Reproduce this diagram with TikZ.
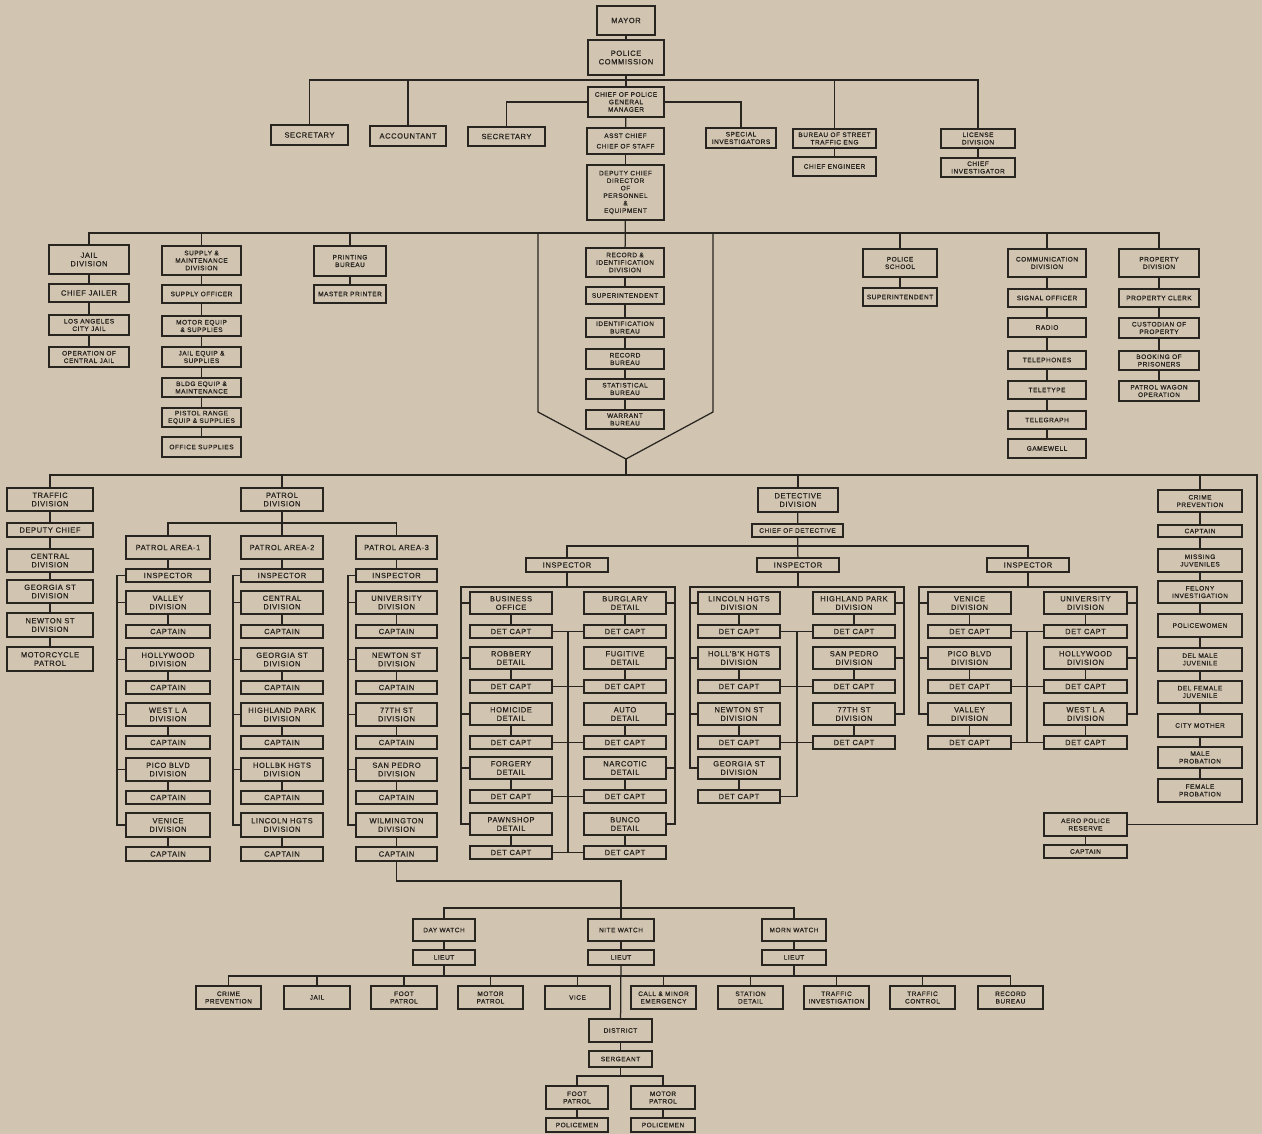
\documentclass[tikz,border=0pt]{standalone}
\usepackage{fontspec}
\setmainfont{Liberation Sans}[LetterSpace=8,FakeBold=0.6]
\definecolor{paper}{RGB}{209,197,177}
\definecolor{ink}{RGB}{40,36,32}
\tikzset{
  bx/.style={draw=ink, line width=1.25pt, text=ink, inner sep=0pt, align=center,
    font=\fontsize{7.5}{8.5}\selectfont},
  sm/.style={font=\fontsize{6.5}{7.5}\selectfont},
  thick box/.style={line width=2.4pt},
  ln/.style={draw=ink, line width=1.25pt}
}
% \B[opts]{name}{x1}{y1}{x2}{y2}{text}
\newcommand\B[7][]{\node[bx,#1, minimum width={((#5)-(#3))*1pt}, minimum height={((#6)-(#4))*1pt}] (#2) at ({((#3)+(#5))/2},{((#4)+(#6))/2}) {#7};}
% patrol area column
\newcommand\PCol[9]{%
  \coordinate (#1br) at (#4,0);
  \B{#1i}{#2}{569}{#3}{582}{INSPECTOR}
  \B{#1d1}{#2}{591}{#3}{614}{#5\\DIVISION}
  \B{#1c1}{#2}{625}{#3}{638}{CAPTAIN}
  \B{#1d2}{#2}{648}{#3}{671}{#6\\DIVISION}
  \B{#1c2}{#2}{681}{#3}{694}{CAPTAIN}
  \B{#1d3}{#2}{703}{#3}{726}{#7\\DIVISION}
  \B{#1c3}{#2}{736}{#3}{749}{CAPTAIN}
  \B{#1d4}{#2}{758}{#3}{781}{#8\\DIVISION}
  \B{#1c4}{#2}{791}{#3}{804}{CAPTAIN}
  \B{#1d5}{#2}{813}{#3}{837}{#9\\DIVISION}
  \B{#1c5}{#2}{847}{#3}{861}{CAPTAIN}
  \draw[ln] (#1i.west) -- (#1i.west -| #1br) |- (#1d5.west);
  \foreach \k in {1,...,4} {\draw[ln] (#1d\k.west -| #1br) -- (#1d\k.west);}
  \foreach \k in {1,...,5} {\draw[ln] (#1d\k) -- (#1c\k);}
}
% detective cell: name, x1, x2, ytop, text
\newcommand\DC[5]{%
  \B{#1}{#2}{#4}{#3}{#4+22}{#5}
  \B{#1c}{#2}{#4+33}{#3}{#4+46}{DET CAPT}
  \draw[ln] (#1) -- (#1c);
}
\begin{document}
\begin{tikzpicture}[x=1pt,y=-1pt]
\useasboundingbox (0,0) rectangle (1262,1134);
\fill[paper] (0,0) rectangle (1262,1134);

% ---------------- top ----------------
\B[thick box]{mayor}{597}{6}{655}{35}{MAYOR}
\B{pc}{588}{40}{664}{75}{POLICE\\COMMISSION}
\B[sm]{chief}{588}{87}{664}{117}{CHIEF OF POLICE\\GENERAL\\MANAGER}
\B{sec1}{271}{125}{348}{145}{SECRETARY}
\B{acc}{370}{126}{446}{146}{ACCOUNTANT}
\B{sec2}{468}{127}{545}{146}{SECRETARY}
\B[sm]{asst}{587}{128}{664}{154}{ASST CHIEF\\[3pt]CHIEF OF STAFF}
\B[sm]{spec}{706}{128}{776}{148}{SPECIAL\\INVESTIGATORS}
\B[sm]{bst}{793}{129}{876}{148}{BUREAU OF STREET\\TRAFFIC ENG}
\B[sm]{ceng}{793}{157}{876}{176}{CHIEF ENGINEER}
\B[sm]{lic}{941}{129}{1015}{148}{LICENSE\\DIVISION}
\B[sm]{cinv}{941}{158}{1015}{177}{CHIEF\\INVESTIGATOR}
\B[sm]{dep}{587}{165}{664}{220}{DEPUTY CHIEF\\DIRECTOR\\OF\\PERSONNEL\\\&\\EQUIPMENT}

\coordinate (b1) at (626,80);
\draw[ln] (mayor) -- (pc);
\draw[ln] (pc) -- (chief);
\draw[ln] (sec1.north) -- (sec1.north |- b1) -- (lic.north |- b1) -- (lic.north);
\draw[ln] (acc.north) -- (acc.north |- b1);
\draw[ln] (bst.north) -- (bst.north |- b1);
\draw[ln] (chief.west) -| (sec2.north);
\draw[ln] (chief.east) -| (spec.north);
\draw[ln] (chief) -- (asst);
\draw[ln] (asst) -- (dep);
\draw[ln] (bst) -- (ceng);
\draw[ln] (lic) -- (cinv);

% ---------------- second level ----------------
\B{jail}{49}{245}{129}{274}{JAIL\\DIVISION}
\B{cj}{49}{284}{129}{302}{CHIEF JAILER}
\B[sm]{lacj}{49}{315}{129}{335}{LOS ANGELES\\CITY JAIL}
\B[sm]{opcj}{49}{347}{129}{367}{OPERATION OF\\CENTRAL JAIL}

\B[sm]{sup}{162}{246}{241}{275}{SUPPLY \&\\MAINTENANCE\\DIVISION}
\B[sm]{supo}{162}{285}{241}{303}{SUPPLY OFFICER}
\B[sm]{moto}{162}{316}{241}{336}{MOTOR EQUIP\\\& SUPPLIES}
\B[sm]{jaile}{162}{347}{241}{367}{JAIL EQUIP \&\\SUPPLIES}
\B[sm]{bldg}{162}{378}{241}{397}{BLDG EQUIP \&\\MAINTENANCE}
\B[sm]{pist}{162}{408}{241}{427}{PISTOL RANGE\\EQUIP \& SUPPLIES}
\B[sm]{offs}{162}{437}{241}{457}{OFFICE SUPPLIES}

\B[sm]{prt}{314}{246}{386}{276}{PRINTING\\BUREAU}
\B[sm]{mprt}{314}{285}{386}{303}{MASTER PRINTER}

\B[sm]{rec}{586}{248}{664}{277}{RECORD \&\\IDENTIFICATION\\DIVISION}
\B[sm]{rsup}{586}{287}{664}{304}{SUPERINTENDENT}
\B[sm]{idb}{586}{318}{664}{337}{IDENTIFICATION\\BUREAU}
\B[sm]{rb}{586}{349}{664}{369}{RECORD\\BUREAU}
\B[sm]{stb}{586}{379}{664}{399}{STATISTICAL\\BUREAU}
\B[sm]{wb}{586}{410}{664}{429}{WARRANT\\BUREAU}

\B[sm]{ps}{863}{249}{937}{277}{POLICE\\SCHOOL}
\B[sm]{psup}{863}{288}{937}{306}{SUPERINTENDENT}

\B[sm]{com}{1008}{249}{1086}{277}{COMMUNICATION\\DIVISION}
\B[sm]{sig}{1008}{289}{1086}{307}{SIGNAL OFFICER}
\B[sm]{radio}{1008}{318}{1086}{337}{RADIO}
\B[sm]{tph}{1008}{351}{1086}{369}{TELEPHONES}
\B[sm]{tty}{1008}{381}{1086}{399}{TELETYPE}
\B[sm]{tgr}{1008}{411}{1086}{429}{TELEGRAPH}
\B[sm]{gam}{1008}{439}{1086}{458}{GAMEWELL}

\B[sm]{prop}{1119}{249}{1199}{277}{PROPERTY\\DIVISION}
\B[sm]{pclk}{1119}{289}{1199}{307}{PROPERTY CLERK}
\B[sm]{cust}{1119}{318}{1199}{338}{CUSTODIAN OF\\PROPERTY}
\B[sm]{book}{1119}{351}{1199}{370}{BOOKING OF\\PRISONERS}
\B[sm]{pwag}{1119}{381}{1199}{401}{PATROL WAGON\\OPERATION}

\coordinate (b2) at (626,233);
\draw[ln] (jail.north) -- (jail.north |- b2) -- (prop.north |- b2) -- (prop.north);
\foreach \n in {sup,prt,ps,com} {\draw[ln] (\n.north) -- (\n.north |- b2);}
\draw[ln] (dep) -- (rec);
\coordinate (pent) at (626,459);
\draw[ln] (538,233) -- (538,412) -- (pent) -- (713,412) -- (713,233);
\draw[ln] (jail) -- (cj); \draw[ln] (cj) -- (lacj); \draw[ln] (lacj) -- (opcj);
\draw[ln] (sup) -- (supo); \draw[ln] (supo) -- (moto); \draw[ln] (moto) -- (jaile);
\draw[ln] (jaile) -- (bldg); \draw[ln] (bldg) -- (pist); \draw[ln] (pist) -- (offs);
\draw[ln] (prt) -- (mprt);
\draw[ln] (rec) -- (rsup); \draw[ln] (rsup) -- (idb); \draw[ln] (idb) -- (rb);
\draw[ln] (rb) -- (stb); \draw[ln] (stb) -- (wb);
\draw[ln] (ps) -- (psup);
\draw[ln] (com) -- (sig); \draw[ln] (sig) -- (radio); \draw[ln] (radio) -- (tph);
\draw[ln] (tph) -- (tty); \draw[ln] (tty) -- (tgr); \draw[ln] (tgr) -- (gam);
\draw[ln] (prop) -- (pclk); \draw[ln] (pclk) -- (cust); \draw[ln] (cust) -- (book);
\draw[ln] (book) -- (pwag);

% ---------------- third level ----------------
\B{trf}{7}{488}{93}{511}{TRAFFIC\\DIVISION}
\B{tdc}{7}{523}{93}{537}{DEPUTY CHIEF}
\B{tcen}{7}{549}{93}{572}{CENTRAL\\DIVISION}
\B{tgeo}{7}{580}{93}{603}{GEORGIA ST\\DIVISION}
\B{tnew}{7}{613}{93}{637}{NEWTON ST\\DIVISION}
\B{tmot}{7}{647}{93}{671}{MOTORCYCLE\\PATROL}
\draw[ln] (trf) -- (tdc); \draw[ln] (tdc) -- (tcen); \draw[ln] (tcen) -- (tgeo);
\draw[ln] (tgeo) -- (tnew); \draw[ln] (tnew) -- (tmot);

\B{pat}{241}{488}{323}{511}{PATROL\\DIVISION}
\B{pa1}{126}{536}{210}{559}{PATROL AREA-1}
\B{pa2}{241}{536}{323}{559}{PATROL AREA-2}
\B{pa3}{356}{536}{437}{559}{PATROL AREA-3}
\coordinate (b4) at (282,523);
\draw[ln] (pa1.north) -- (pa1.north |- b4) -- (pa3.north |- b4) -- (pa3.north);
\draw[ln] (pat) -- (pa2);

\PCol{a1}{126}{210}{117}{VALLEY}{HOLLYWOOD}{WEST L A}{PICO BLVD}{VENICE}
\PCol{a2}{241}{323}{233}{CENTRAL}{GEORGIA ST}{HIGHLAND PARK}{HOLLBK HGTS}{LINCOLN HGTS}
\PCol{a3}{356}{437}{348}{UNIVERSITY}{NEWTON ST}{77TH ST}{SAN PEDRO}{WILMINGTON}
\draw[ln] (pa1) -- (a1i); \draw[ln] (pa2) -- (a2i); \draw[ln] (pa3) -- (a3i);

% detective
\B{det}{758}{488}{838}{512}{DETECTIVE\\DIVISION}
\B[sm]{cod}{752}{524}{843}{537}{CHIEF OF DETECTIVE}
\B{di1}{526}{558}{608}{572}{INSPECTOR}
\B{di2}{757}{558}{839}{572}{INSPECTOR}
\B{di3}{987}{558}{1069}{572}{INSPECTOR}
\draw[ln] (det) -- (cod);
\coordinate (b5) at (797,546);
\draw[ln] (di1.north) -- (di1.north |- b5) -- (di3.north |- b5) -- (di3.north);
\draw[ln] (cod) -- (di2);

% inspector 1
\DC{ba}{470}{552}{592}{BUSINESS\\OFFICE}
\DC{rob}{470}{552}{647}{ROBBERY\\DETAIL}
\DC{hom}{470}{552}{703}{HOMICIDE\\DETAIL}
\DC{forg}{470}{552}{757}{FORGERY\\DETAIL}
\DC{pawn}{470}{552}{813}{PAWNSHOP\\DETAIL}
\DC{burg}{584}{666}{592}{BURGLARY\\DETAIL}
\DC{fug}{584}{666}{647}{FUGITIVE\\DETAIL}
\DC{auto}{584}{666}{703}{AUTO\\DETAIL}
\DC{narc}{584}{666}{757}{NARCOTIC\\DETAIL}
\DC{bun}{584}{666}{813}{BUNCO\\DETAIL}
\coordinate (i1L) at (461,587); \coordinate (i1R) at (675,587); \coordinate (i1M) at (568,0);
\draw[ln] (di1.south) -- (di1.south |- i1L);
\draw[ln] (pawn.west) -| (i1L) -- (i1R) |- (bun.east);
\foreach \n in {ba,rob,hom,forg} {\draw[ln] (\n.west -| i1L) -- (\n.west);}
\foreach \n in {burg,fug,auto,narc} {\draw[ln] (\n.east -| i1R) -- (\n.east);}
\draw[ln] (bac.east -| i1M) -- (pawnc.east -| i1M);
\draw[ln] (bac.east) -- (burgc.west);
\draw[ln] (robc.east) -- (fugc.west);
\draw[ln] (homc.east) -- (autoc.west);
\draw[ln] (forgc.east) -- (narcc.west);
\draw[ln] (pawnc.east) -- (bunc.west);

% inspector 2
\DC{lh}{698}{780}{592}{LINCOLN HGTS\\DIVISION}
\DC{hh}{698}{780}{647}{HOLL'B'K HGTS\\DIVISION}
\DC{ns}{698}{780}{703}{NEWTON ST\\DIVISION}
\DC{gs}{698}{780}{757}{GEORGIA ST\\DIVISION}
\DC{hp}{813}{895}{592}{HIGHLAND PARK\\DIVISION}
\DC{sp}{813}{895}{647}{SAN PEDRO\\DIVISION}
\DC{sev}{813}{895}{703}{77TH ST\\DIVISION}
\coordinate (i2L) at (690,587); \coordinate (i2R) at (904,587); \coordinate (i2M) at (797,0);
\draw[ln] (di2.south) -- (di2.south |- i2L);
\draw[ln] (gs.west) -| (i2L) -- (i2R) |- (sev.east);
\foreach \n in {lh,hh,ns} {\draw[ln] (\n.west -| i2L) -- (\n.west);}
\foreach \n in {hp,sp} {\draw[ln] (\n.east -| i2R) -- (\n.east);}
\draw[ln] (lhc.east -| i2M) -- (gsc.east -| i2M);
\draw[ln] (lhc.east) -- (hpc.west);
\draw[ln] (hhc.east) -- (spc.west);
\draw[ln] (nsc.east) -- (sevc.west);
\draw[ln] (gsc.east) -- (gsc.east -| i2M);

% inspector 3
\DC{ven}{928}{1011}{592}{VENICE\\DIVISION}
\DC{pico}{928}{1011}{647}{PICO BLVD\\DIVISION}
\DC{val}{928}{1011}{703}{VALLEY\\DIVISION}
\DC{univ}{1044}{1127}{592}{UNIVERSITY\\DIVISION}
\DC{holly}{1044}{1127}{647}{HOLLYWOOD\\DIVISION}
\DC{wla}{1044}{1127}{703}{WEST L A\\DIVISION}
\coordinate (i3L) at (919,587); \coordinate (i3R) at (1137,587); \coordinate (i3M) at (1027,0);
\draw[ln] (di3.south) -- (di3.south |- i3L);
\draw[ln] (val.west) -| (i3L) -- (i3R) |- (wla.east);
\foreach \n in {ven,pico} {\draw[ln] (\n.west -| i3L) -- (\n.west);}
\foreach \n in {univ,holly} {\draw[ln] (\n.east -| i3R) -- (\n.east);}
\draw[ln] (venc.east -| i3M) -- (valc.east -| i3M);
\draw[ln] (venc.east) -- (univc.west);
\draw[ln] (picoc.east) -- (hollyc.west);
\draw[ln] (valc.east) -- (wlac.west);

% crime prevention
\B[sm]{cp}{1158}{490}{1242}{512}{CRIME\\PREVENTION}
\B[sm]{cpc}{1158}{525}{1242}{537}{CAPTAIN}
\B[sm]{mj}{1158}{549}{1242}{572}{MISSING\\JUVENILES}
\B[sm]{fi}{1158}{581}{1242}{603}{FELONY\\INVESTIGATION}
\B[sm]{pw}{1158}{614}{1242}{637}{POLICEWOMEN}
\B[sm]{dmj}{1158}{648}{1242}{671}{DEL MALE\\JUVENILE}
\B[sm]{dfj}{1158}{681}{1242}{703}{DEL FEMALE\\JUVENILE}
\B[sm]{cm}{1158}{714}{1242}{737}{CITY MOTHER}
\B[sm]{mp}{1158}{747}{1242}{768}{MALE\\PROBATION}
\B[sm]{fp}{1158}{779}{1242}{802}{FEMALE\\PROBATION}
\draw[ln] (cp) -- (cpc); \draw[ln] (cpc) -- (mj); \draw[ln] (mj) -- (fi);
\draw[ln] (fi) -- (pw); \draw[ln] (pw) -- (dmj); \draw[ln] (dmj) -- (dfj);
\draw[ln] (dfj) -- (cm); \draw[ln] (cm) -- (mp); \draw[ln] (mp) -- (fp);
\B[sm]{aero}{1044}{813}{1127}{836}{AERO POLICE\\RESERVE}
\B[sm]{aeroc}{1044}{845}{1127}{858}{CAPTAIN}
\draw[ln] (aero) -- (aeroc);

\coordinate (b3) at (626,475);
\coordinate (b3r) at (1257,475);
\draw[ln] (trf.north) |- (b3r) |- (aero.east);
\foreach \n in {pat,det,cp} {\draw[ln] (\n.north) -- (\n.north |- b3);}
\draw[ln] (pent) -- (b3);

% ---------------- watches ----------------
\B[sm]{dw}{413}{919}{475}{941}{DAY WATCH}
\B[sm]{nw}{588}{919}{654}{941}{NITE WATCH}
\B[sm]{mw}{762}{919}{826}{941}{MORN WATCH}
\B[sm]{l1}{413}{950}{475}{965}{LIEUT}
\B[sm]{l2}{588}{950}{654}{965}{LIEUT}
\B[sm]{l3}{762}{950}{826}{965}{LIEUT}
\coordinate (cw) at (621,881);
\draw[ln] (a3c5.south) |- (cw) -- (nw.north);
\coordinate (wb) at (621,908);
\draw[ln] (dw.north) -- (dw.north |- wb) -- (mw.north |- wb) -- (mw.north);
\draw[ln] (dw) -- (l1); \draw[ln] (nw) -- (l2); \draw[ln] (mw) -- (l3);

\B[sm]{cpb}{196}{986}{261}{1009}{CRIME\\PREVENTION}
\B[sm]{jl}{284}{986}{350}{1009}{JAIL}
\B[sm]{fpb}{371}{986}{437}{1009}{FOOT\\PATROL}
\B[sm]{mpb}{458}{986}{523}{1009}{MOTOR\\PATROL}
\B[sm]{vice}{545}{986}{610}{1009}{VICE}
\B[sm]{call}{631}{986}{696}{1009}{CALL \& MINOR\\EMERGENCY}
\B[sm]{stat}{718}{986}{783}{1009}{STATION\\DETAIL}
\B[sm]{tinv}{804}{986}{869}{1009}{TRAFFIC\\INVESTIGATION}
\B[sm]{tcon}{890}{986}{955}{1009}{TRAFFIC\\CONTROL}
\B[sm]{recb}{978}{986}{1043}{1009}{RECORD\\BUREAU}
\coordinate (bb) at (621,976);
\draw[ln] (cpb.north) -- (cpb.north |- bb) -- (recb.north |- bb) -- (recb.north);
\foreach \n in {jl,fpb,mpb,vice,call,stat,tinv,tcon} {\draw[ln] (\n.north) -- (\n.north |- bb);}
\draw[ln] (l1.south) -- (l1.south |- bb);
\draw[ln] (l3.south) -- (l3.south |- bb);

\B[sm]{dist}{589}{1019}{652}{1042}{DISTRICT}
\B[sm]{sgt}{589}{1051}{652}{1067}{SERGEANT}
\B[sm]{fpt}{546}{1086}{608}{1109}{FOOT\\PATROL}
\B[sm]{mpt}{631}{1086}{695}{1109}{MOTOR\\PATROL}
\B[sm]{pm1}{546}{1118}{608}{1132}{POLICEMEN}
\B[sm]{pm2}{631}{1118}{695}{1132}{POLICEMEN}
\draw[ln] (l2) -- (dist);
\draw[ln] (dist) -- (sgt);
\coordinate (sb) at (620,1076);
\draw[ln] (fpt.north) -- (fpt.north |- sb) -- (mpt.north |- sb) -- (mpt.north);
\draw[ln] (sgt.south) -- (sgt.south |- sb);
\draw[ln] (fpt) -- (pm1); \draw[ln] (mpt) -- (pm2);
\end{tikzpicture}
\end{document}
